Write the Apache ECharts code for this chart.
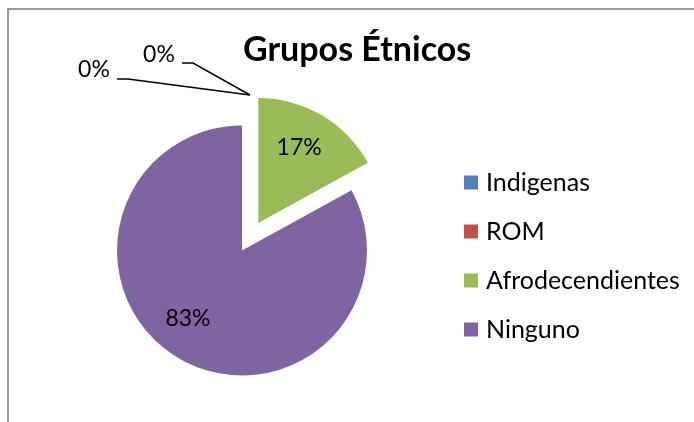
<!DOCTYPE html>
<html>
<head>
<meta charset="utf-8">
<script src="https://cdn.jsdelivr.net/npm/echarts@6/dist/echarts.min.js"></script>
<style>html,body{margin:0;padding:0;background:#fff;}#c{width:694px;height:422px;}</style>
</head>
<body>
<div id="c"></div>
<script>
const titleText = 'Grupos Étnicos';
const categories = ['Indigenas', 'ROM', 'Afrodecendientes', 'Ninguno'];
const values = [0, 0, 17, 83];
const colors = ['#4F81BD', '#C0504D', '#9BBB59', '#8064A2'];
const explodedIndex = 2;

// label anchor positions (styling only); null = library's inside position
const labelPos = [
  {x: 159, y: 55, line: [[182, 63], [193, 63], [250, 95]]},
  {x: 94, y: 70, line: [[117, 79], [128, 79], [250, 95]]},
  null,
  {x: 188, y: 319}
];

const chart = echarts.init(document.getElementById('c'), null, {renderer: 'canvas'});
const FONT = 'Lato';

const data = categories.map((name, i) => {
  const item = {
    name: name,
    value: values[i],
    itemStyle: {color: colors[i]},
    select: {itemStyle: {color: colors[i]}}
  };
  if (i === explodedIndex) {
    item.selected = true;
    item.label = {
      position: 'inside',
      padding: [0, 0, 0, 15],
      formatter: '{v|{d}%}\n{gap| }',
      rich: {
        v: {fontFamily: FONT, fontSize: 23, color: '#000', lineHeight: 26},
        gap: {fontSize: 1, lineHeight: 38}
      }
    };
  }
  if (!labelPos[i] || !labelPos[i].line) item.labelLine = {show: false};
  return item;
});

chart.setOption({
  animation: false,
  backgroundColor: '#fff',
  title: {
    text: titleText,
    left: 243,
    top: 33,
    padding: 0,
    textStyle: {fontFamily: FONT, fontWeight: 'bold', fontSize: 34, color: '#000'}
  },
  legend: {
    orient: 'vertical',
    left: 464,
    top: 170,
    padding: 0,
    icon: 'rect',
    itemWidth: 14,
    itemHeight: 14,
    itemGap: 24,
    selectedMode: false,
    data: categories,
    textStyle: {fontFamily: FONT, fontSize: 25, lineHeight: 24, color: '#000', padding: [0, 0, 0, 3]}
  },
  graphic: [{
    type: 'rect',
    shape: {x: 8, y: 9, width: 720, height: 440},
    style: {fill: null, stroke: '#9a9a9a', lineWidth: 2},
    silent: true,
    z: -1
  }],
  series: [{
    type: 'pie',
    center: [242, 250.5],
    radius: 125,
    startAngle: 90,
    clockwise: true,
    selectedMode: 'single',
    selectedOffset: 32,
    avoidLabelOverlap: false,
    emphasis: {disabled: true},
    label: {
      show: true,
      position: 'outside',
      formatter: '{d}%',
      fontFamily: FONT,
      fontSize: 23,
      color: '#000'
    },
    labelLine: {show: true, lineStyle: {color: '#000', width: 1.5}, length: 10, length2: 10},
    labelLayout: function (p) {
      const lp = labelPos[p.dataIndex];
      if (!lp) return {};
      const r = {x: lp.x, y: lp.y, align: 'center', verticalAlign: 'middle'};
      if (lp.line) r.labelLinePoints = lp.line;
      return r;
    },
    data: data
  }]
});
</script>
</body>
</html>
